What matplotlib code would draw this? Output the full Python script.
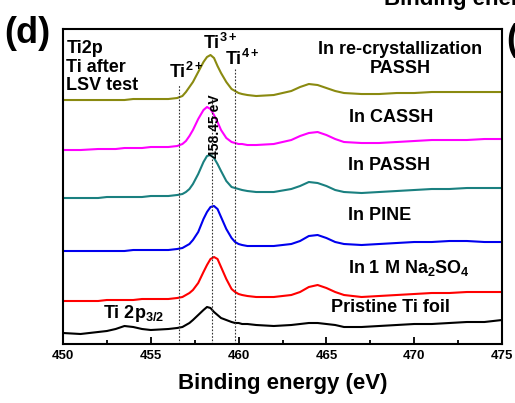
import matplotlib
matplotlib.use("Agg")
import matplotlib.pyplot as plt

plt.rcParams['font.family'] = ['Liberation Sans', 'DejaVu Sans']
plt.rcParams['mathtext.fontset'] = 'custom'
plt.rcParams['mathtext.rm'] = 'Liberation Sans'
plt.rcParams['mathtext.bf'] = 'Liberation Sans:bold'
plt.rcParams['mathtext.it'] = 'Liberation Sans:italic'

# binding energy grid (eV)
energy = [450, 451, 452, 452.5, 453, 453.5, 454, 454.5, 455, 456,
          456.5, 456.8, 457, 457.2, 457.4, 457.7, 458.0, 458.2, 458.4, 458.6,
          458.8, 459.0, 459.3, 459.6, 459.8, 460.0, 460.2, 460.5, 461,
          462, 463, 463.5, 464, 464.5, 465, 465.5, 466, 467,
          468, 469, 470, 471, 472, 473, 474, 475]

# intensities (a.u., stacked)
pristine = [11, 10, 12, 13, 15, 18, 17, 15, 14, 15,
            16, 17, 19, 21, 24, 29, 34, 37, 36, 32,
            29, 26, 24, 22, 21, 21, 20, 20, 19,
            18, 19, 20, 21, 21, 20, 19, 17, 17,
            18, 19, 20, 20, 21, 22, 22, 24]
na2so4 = [43, 43, 43, 44, 44, 44, 44, 45, 45, 45,
          46, 47, 49, 51, 54, 61, 72, 79, 85, 87,
          85, 77, 65, 55, 52, 50, 49, 48, 47,
          47, 49, 52, 57, 59, 56, 52, 49, 47,
          48, 49, 50, 51, 51, 52, 52, 52]
pine = [93, 93, 93, 93, 93, 93, 94, 94, 94, 94,
        95, 96, 98, 100, 104, 112, 125, 132, 137, 138,
        135, 127, 115, 106, 102, 100, 99, 98, 98,
        98, 100, 103, 108, 109, 106, 102, 100, 99,
        100, 101, 102, 102, 103, 103, 102, 102]
passh = [146, 146, 146, 147, 147, 147, 147, 147, 148, 148,
         149, 150, 152, 155, 160, 170, 182, 188, 189, 186,
         180, 173, 163, 157, 156, 155, 154, 153, 152,
         152, 155, 158, 162, 161, 158, 154, 152, 151,
         152, 153, 154, 155, 155, 156, 156, 156]
cassh = [194, 194, 195, 195, 195, 196, 196, 196, 197, 197,
         198, 200, 203, 208, 214, 225, 234, 237, 235, 229,
         222, 214, 206, 202, 201, 200, 200, 199, 199,
         200, 204, 208, 211, 212, 209, 205, 202, 201,
         201, 202, 203, 204, 204, 204, 205, 205]
recryst = [244, 244, 244, 244, 244, 244, 245, 245, 245, 245,
           246, 248, 252, 257, 262, 272, 282, 287, 289, 286,
           278, 271, 262, 255, 253, 251, 250, 249, 248,
           249, 253, 257, 260, 259, 256, 253, 251, 250,
           250, 251, 251, 252, 252, 252, 252, 252]

series = [pristine, na2so4, pine, passh, cassh, recryst]
colors = ['black', '#ff0000', '#0000ee', '#1a8080', '#ff00ff', '#8a8a10']

# reference energies for Ti2+, Ti3+, Ti4+ and top of each dotted line
ref_energy = [456.6, 458.5, 459.8]
ref_top = [259, 247, 276]

fig = plt.figure(figsize=(5.15, 4.03), dpi=100)
ax = fig.add_axes([0.1223, 0.1464, 0.8525, 0.7816])

for y, c in zip(series, colors):
    ax.plot(energy, y, color=c, lw=1.5)

for e, t in zip(ref_energy, ref_top):
    ax.plot([e, e], [0, t], color='#333333', lw=0.8, ls=(0, (1.5, 1.5)))

ax.set_xlim(450, 475)
ax.set_ylim(0, 315)
ax.set_yticks([])
ax.set_xticks([450, 455, 460, 465, 470, 475])
ax.set_xticks([452.5, 457.5, 462.5, 467.5, 472.5], minor=True)
ax.tick_params(axis='x', which='major', direction='in', length=5, width=1.3,
               labelsize=9.5, pad=4)
ax.tick_params(axis='x', which='minor', direction='in', length=3, width=1.3)
for lab in ax.get_xticklabels():
    lab.set_fontweight('bold')
for s in ax.spines.values():
    s.set_linewidth(1.5)

ax.set_xlabel('Binding energy (eV)', fontsize=16, fontweight='bold', labelpad=8)

fs = 13
ax.text(450.2, 277, 'Ti2p\nTi after\nLSV test', fontsize=fs, fontweight='bold',
        ha='left', va='center', linespacing=1.15)
ax.text(456.05, 272, r'Ti$^{\mathbf{2+}}$', fontsize=fs, fontweight='bold', ha='left', va='center')
ax.text(458.0, 301, r'Ti$^{\mathbf{3+}}$', fontsize=fs, fontweight='bold', ha='left', va='center')
ax.text(459.25, 285, r'Ti$^{\mathbf{4+}}$', fontsize=fs, fontweight='bold', ha='left', va='center')
ax.text(458.66, 218, '458.45 eV', fontsize=10, fontweight='bold', rotation=90,
        ha='center', va='center')
ax.text(469.19, 285, 'In re-crystallization\nPASSH', fontsize=fs, fontweight='bold',
        ha='center', va='center', multialignment='center', linespacing=1.15)
ax.text(468.68, 227, 'In CASSH', fontsize=fs, fontweight='bold', ha='center', va='center')
ax.text(468.56, 179, 'In PASSH', fontsize=fs, fontweight='bold', ha='center', va='center')
ax.text(468.05, 129, 'In PINE', fontsize=fs, fontweight='bold', ha='center', va='center')
ax.text(469.7, 76, r'In 1 M Na$_{\mathbf{2}}$SO$_{\mathbf{4}}$', fontsize=fs, fontweight='bold',
        ha='center', va='center')
ax.text(468.62, 37, 'Pristine Ti foil', fontsize=fs, fontweight='bold', ha='center', va='center')
ax.text(452.28, 31, r'Ti 2p$_{\mathregular{3/2}}$', fontsize=fs, fontweight='bold',
        ha='left', va='center')

# panel labels (neighbouring panel partly visible)
fig.text(0.008, 0.918, '(d)', fontsize=26, fontweight='bold', ha='left', va='center')
fig.text(0.983, 0.9, '(e)', fontsize=26, fontweight='bold', ha='left', va='center')
fig.text(0.745, 1.0, 'Binding energy (eV)', fontsize=16, fontweight='bold',
         ha='left', va='center')

fig.savefig('out.png', dpi=100)
